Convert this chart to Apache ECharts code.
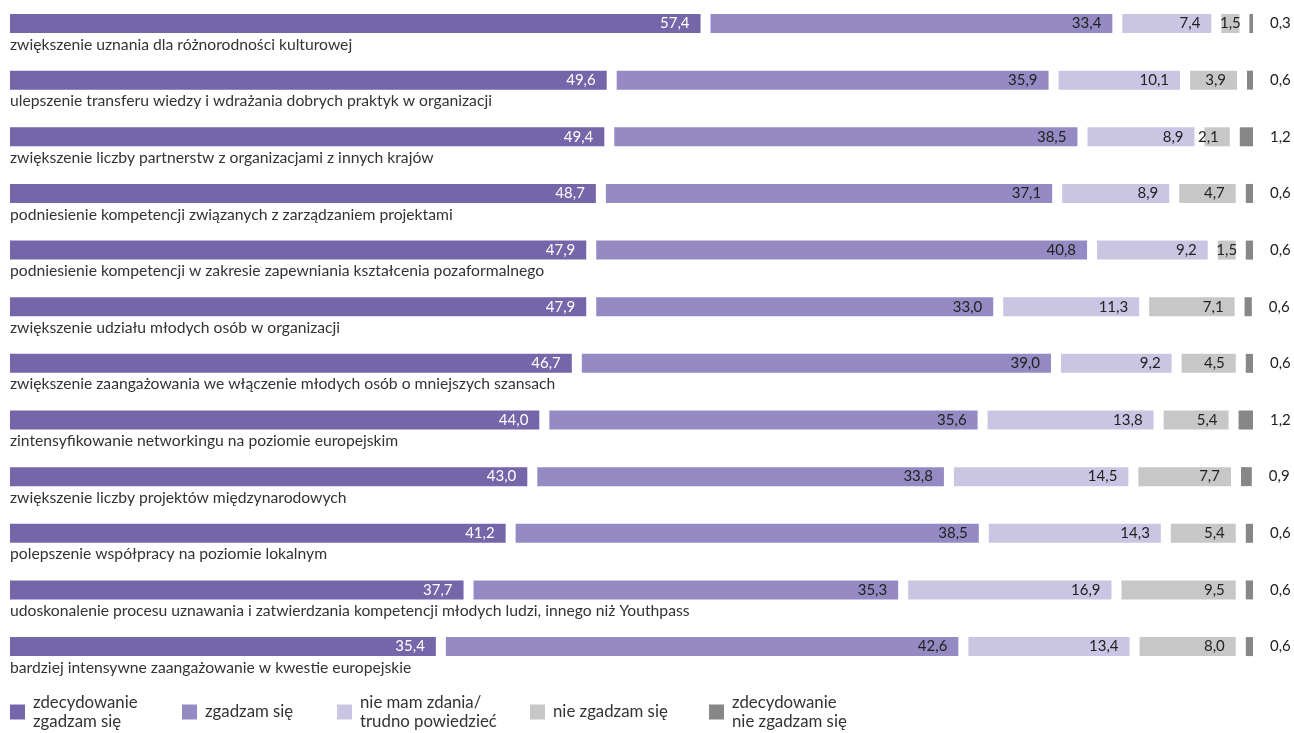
<!DOCTYPE html>
<html>
<head>
<meta charset="utf-8">
<script src="https://cdn.jsdelivr.net/npm/echarts@6/dist/echarts.min.js"></script>
<style>
html,body{margin:0;padding:0;background:#fff;}
#chart{width:1294px;height:733px;}
</style>
</head>
<body>
<div id="chart"></div>
<script>
var categories = [
  'zwiększenie uznania dla różnorodności kulturowej',
  'ulepszenie transferu wiedzy i wdrażania dobrych praktyk w organizacji',
  'zwiększenie liczby partnerstw z organizacjami z innych krajów',
  'podniesienie kompetencji związanych z zarządzaniem projektami',
  'podniesienie kompetencji w zakresie zapewniania kształcenia pozaformalnego',
  'zwiększenie udziału młodych osób w organizacji',
  'zwiększenie zaangażowania we włączenie młodych osób o mniejszych szansach',
  'zintensyfikowanie networkingu na poziomie europejskim',
  'zwiększenie liczby projektów międzynarodowych',
  'polepszenie współpracy na poziomie lokalnym',
  'udoskonalenie procesu uznawania i zatwierdzania kompetencji młodych ludzi, innego niż Youthpass',
  'bardziej intensywne zaangażowanie w kwestie europejskie'
];
var seriesNames = ['zdecydowanie\nzgadzam się', 'zgadzam się', 'nie mam zdania/\ntrudno powiedzieć', 'nie zgadzam się', 'zdecydowanie\nnie zgadzam się'];
var stronglyAgree    = [57.4, 49.6, 49.4, 48.7, 47.9, 47.9, 46.7, 44.0, 43.0, 41.2, 37.7, 35.4];
var agree            = [33.4, 35.9, 38.5, 37.1, 40.8, 33.0, 39.0, 35.6, 33.8, 38.5, 35.3, 42.6];
var noOpinion        = [7.4, 10.1, 8.9, 8.9, 9.2, 11.3, 9.2, 13.8, 14.5, 14.3, 16.9, 13.4];
var disagree         = [1.5, 3.9, 2.1, 4.7, 1.5, 7.1, 4.5, 5.4, 7.7, 5.4, 9.5, 8.0];
var stronglyDisagree = [0.3, 0.6, 1.2, 0.6, 0.6, 0.6, 0.6, 1.2, 0.9, 0.6, 0.6, 0.6];

var colors = ['#7565a9', '#958ac3', '#cbc5e4', '#c7c7c7', '#878787'];
var FONT = 'Lato';
var GAP = 0.831;
var values = [stronglyAgree, agree, noOpinion, disagree, stronglyDisagree];

function fmt(v) { return v.toFixed(1).replace('.', ','); }

var series = [];
values.forEach(function (arr, i) {
  var isLast = i === values.length - 1;
  series.push({
    name: seriesNames[i],
    type: 'bar',
    stack: 'total',
    barWidth: 19,
    barMinHeight: isLast ? 7 : 0,
    itemStyle: { color: colors[i] },
    label: {
      show: true,
      position: isLast ? 'right' : 'insideRight',
      distance: isLast ? 17 : 11,
      fontFamily: FONT,
      fontSize: 15,
      color: i === 0 ? '#ffffff' : '#222222',
      formatter: function (p) { return fmt(p.value); }
    },
    data: arr.map(function (v) {
      if (!isLast && v < 2) {
        return { value: v, label: { position: 'inside', distance: 0 } };
      }
      return v;
    })
  });
  if (!isLast) {
    series.push({
      name: 'gap' + i,
      type: 'bar',
      stack: 'total',
      silent: true,
      itemStyle: { color: 'rgba(0,0,0,0)' },
      label: { show: false },
      data: categories.map(function () { return GAP; })
    });
  }
});

var legendLefts = [10, 182, 337, 530, 709];
var legends = seriesNames.map(function (n, i) {
  var twoLine = n.indexOf('\n') >= 0;
  return {
    data: [n],
    left: legendLefts[i],
    top: twoLine ? 693 : 702.5,
    orient: 'horizontal',
    icon: 'rect',
    itemWidth: 15,
    itemHeight: 15,
    selectedMode: false,
    padding: 0,
    textStyle: {
      fontFamily: FONT,
      fontSize: 16.8,
      color: '#333333',
      lineHeight: 19,
      padding: [0, 0, 0, 3]
    }
  };
});

var chart = echarts.init(document.getElementById('chart'), null, { renderer: 'canvas' });
chart.setOption({
  animation: false,
  color: colors,
  legend: legends,
  grid: { left: 10, right: 41, top: -4.8, height: 679.7, containLabel: false, outerBoundsMode: 'none' },
  xAxis: { type: 'value', min: 0, max: 100 + 4 * GAP, show: false },
  yAxis: {
    type: 'category',
    inverse: true,
    data: categories,
    axisLine: { show: false },
    axisTick: { show: false },
    splitLine: { show: false },
    axisLabel: {
      inside: true,
      margin: 0,
      align: 'left',
      verticalAlign: 'top',
      padding: [13, 0, 0, 0],
      fontFamily: FONT,
      fontSize: 15.7,
      color: '#333333'
    },
    z: 10
  },
  series: series
});
</script>
</body>
</html>
